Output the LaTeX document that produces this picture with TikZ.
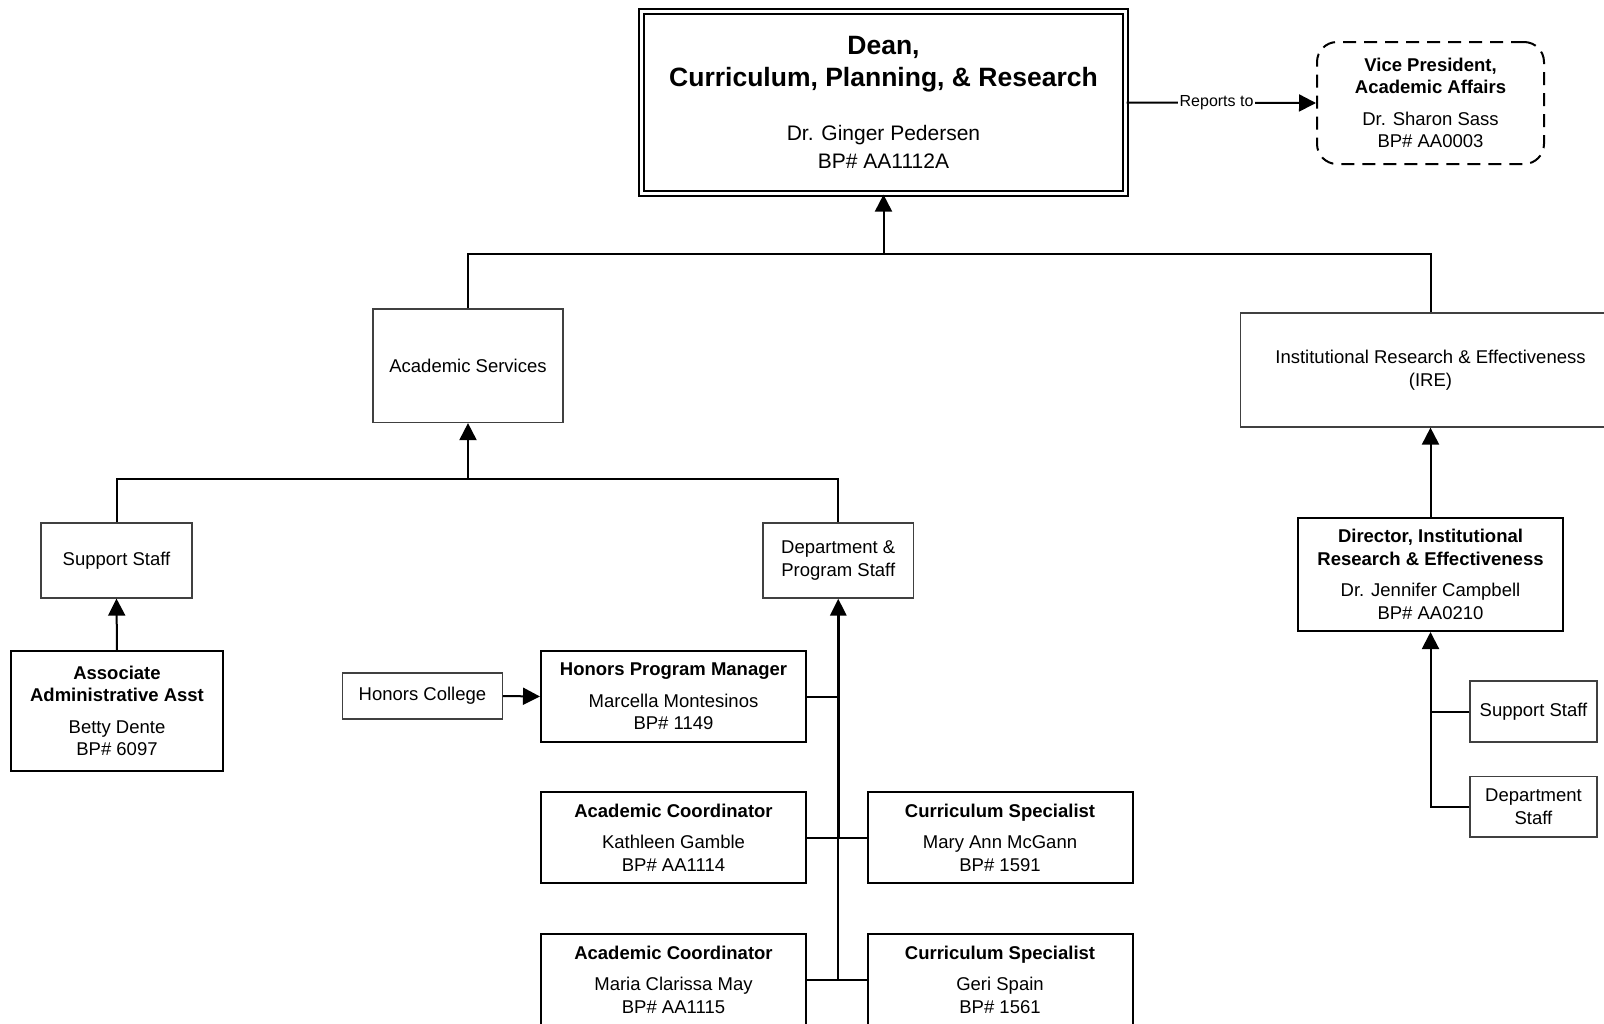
\documentclass[tikz,border=0pt]{standalone}
\usepackage{fontspec}
\setmainfont{Liberation Sans}
\usetikzlibrary{arrows.meta}
\newcommand\deantitle[1]{{\fontsize{26.5}{27.5}\selectfont\bfseries #1}}
\begin{document}
\begin{tikzpicture}[x=1pt,y=-1pt,
  every node/.style={inner sep=0pt, align=center, font=\fontsize{18.5}{22.5}\selectfont},
  thinbox/.style={draw=black!75, line width=1.2pt, fill=white},
  boldbox/.style={draw=black, line width=2pt, fill=white},
  conn/.style={line width=2pt},
  arr/.style={line width=2pt, -{Triangle[length=17pt,width=17pt]}},
]
\useasboundingbox (0,0) rectangle (1604,1023);
\clip (0,0) rectangle (1604,1023);

% top
\node[draw, line width=2.2pt, double, double distance=2.5pt, minimum width=484pt, minimum height=182pt,
      font=\fontsize{21}{27.5}\selectfont] (dean) at (883.5,102.5)
  {\deantitle{Dean,}\\[4pt]\deantitle{Curriculum, Planning, \& Research}\\[27pt]Dr. Ginger Pedersen\\BP\# AA1112A};
\node[draw, line width=2pt, dash pattern=on 13pt off 8pt, rounded corners=20pt,
      minimum width=227pt, minimum height=122pt] (vp) at (1430.5,103)
  {\textbf{Vice President,}\\\textbf{Academic Affairs}\\[9pt]Dr. Sharon Sass\\BP\# AA0003};

% second level
\node[thinbox, minimum width=190pt, minimum height=113.5pt] (as) at (468,365.75) {Academic Services};
\node[thinbox, minimum width=380pt, minimum height=114pt] (ire) at (1430.5,370) {Institutional Research \& Effectiveness\\(IRE)};

% academic services subtree
\node[thinbox, minimum width=151pt, minimum height=75pt] (supl) at (116.5,560.5) {Support Staff};
\node[boldbox, minimum width=212pt, minimum height=120pt] (assoc) at (117,711)
  {\textbf{Associate}\\\textbf{Administrative Asst}\\[9pt]Betty Dente\\BP\# 6097};
\node[thinbox, minimum width=150.5pt, minimum height=75pt] (dept) at (838.25,560.5) {Department \&\\Program Staff};
\node[thinbox, minimum width=159.5pt, minimum height=46pt] (hc) at (422.5,696) {Honors College};
\node[boldbox, minimum width=265pt, minimum height=91pt] (hpm) at (673.5,696.5)
  {\textbf{Honors Program Manager}\\[9pt]Marcella Montesinos\\BP\# 1149};
\node[boldbox, minimum width=265pt, minimum height=91pt] (ac1) at (673.5,837.5)
  {\textbf{Academic Coordinator}\\[9pt]Kathleen Gamble\\BP\# AA1114};
\node[boldbox, minimum width=265pt, minimum height=91pt] (cs1) at (1000,837.5)
  {\textbf{Curriculum Specialist}\\[9pt]Mary Ann McGann\\BP\# 1591};
\node[boldbox, minimum width=265pt, minimum height=91pt] (ac2) at (673.5,979.5)
  {\textbf{Academic Coordinator}\\[9pt]Maria Clarissa May\\BP\# AA1115};
\node[boldbox, minimum width=265pt, minimum height=91pt] (cs2) at (1000,979.5)
  {\textbf{Curriculum Specialist}\\[9pt]Geri Spain\\BP\# 1561};

% IRE subtree
\node[boldbox, minimum width=265pt, minimum height=113pt] (dir) at (1430.5,574.5)
  {\textbf{Director, Institutional}\\\textbf{Research \& Effectiveness}\\[9pt]Dr. Jennifer Campbell\\BP\# AA0210};
\node[thinbox, minimum width=127pt, minimum height=61pt] (ires) at (1533.5,711.5) {Support Staff};
\node[thinbox, minimum width=127pt, minimum height=60.5pt] (dst) at (1533.5,806.75) {Department\\Staff};

% connectors
\coordinate (b1) at (883.5,254);
\coordinate (b2) at (468,479);
\draw[conn] (as.north) |- (b1) -| (ire.north);
\draw[arr] (b1) -- (dean.south);
\draw[arr] (dean.east) -- node[pos=0.475, fill=white, inner xsep=2pt, inner ysep=1pt,
  font=\fontsize{16}{18}\selectfont] (rep) {Reports to} (vp.west);

\draw[conn] (supl.north) |- (b2) -| (dept.north);
\draw[arr] (b2) -- (as.south);
\draw[arr] (assoc.north) -- (supl.south);
\draw[arr] (hc.east) -- (hpm.west);

\draw[conn] (hpm.east) -- (hpm.east -| dept.south);
\draw[conn] (ac1.east) -- (cs1.west);
\draw[conn] (ac2.east) -- (cs2.west);
\draw[conn] (ac2.east -| dept.south) -- (ac1.east -| dept.south);
\draw[line width=3pt, -{Triangle[length=17pt,width=16pt]}] (ac1.east -| dept.south) -- (dept.south);

\draw[arr] (dir.north) -- (ire.south);
\draw[conn] (ires.west) -- (ires.west -| dir.south);
\draw[arr] (dst.west) -| (dir.south);
\end{tikzpicture}
\end{document}
